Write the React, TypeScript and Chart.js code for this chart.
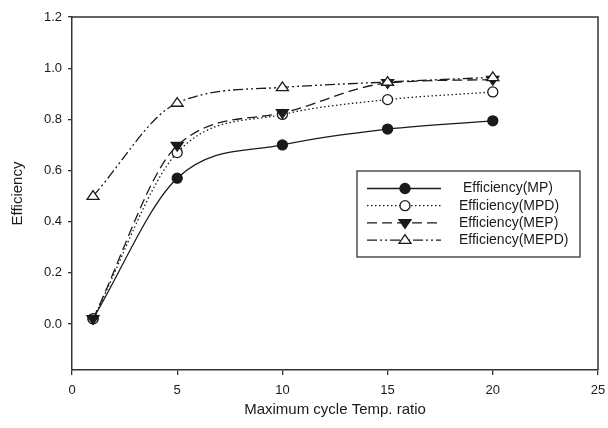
import React, { useEffect, useRef } from "react";
import { Chart, registerables } from "chart.js";

Chart.register(...registerables);

const xValues = [1, 5, 10, 15, 20];
const seriesLabels = ["Efficiency(MP)", "Efficiency(MPD)", "Efficiency(MEP)", "Efficiency(MEPD)"];
const effMP = [0.02, 0.57, 0.70, 0.762, 0.794];
const effMPD = [0.02, 0.67, 0.819, 0.877, 0.907];
const effMEP = [0.02, 0.697, 0.825, 0.942, 0.955];
const effMEPD = [0.50, 0.864, 0.925, 0.946, 0.964];
const yTickValues = [0, 0.2, 0.4, 0.6, 0.8, 1.0, 1.2];
const xTickValues = [0, 5, 10, 15, 20, 25];

const INK = "#1a1a1a";
const AXIS = "#333333";
const FONT = "'Liberation Sans', Arial, sans-serif";

type Style = { dash: number[]; marker: "circle" | "triangle"; filled: boolean; down: boolean };
const styles: Style[] = [
  { dash: [], marker: "circle", filled: true, down: false },
  { dash: [1.5, 2.5], marker: "circle", filled: false, down: false },
  { dash: [10, 5], marker: "triangle", filled: true, down: true },
  { dash: [10, 3, 2, 3, 2, 3], marker: "triangle", filled: false, down: false },
];
const seriesData = [effMP, effMPD, effMEP, effMEPD];

function drawMarker(ctx: CanvasRenderingContext2D, s: Style, x: number, y: number) {
  ctx.save();
  ctx.setLineDash([]);
  ctx.lineWidth = 1.3;
  ctx.strokeStyle = INK;
  ctx.fillStyle = s.filled ? INK : "#ffffff";
  ctx.beginPath();
  if (s.marker === "circle") {
    ctx.arc(x, y, 5, 0, Math.PI * 2);
  } else {
    const r = 6;
    if (s.down) {
      ctx.moveTo(x - r, y - r * 0.55);
      ctx.lineTo(x + r, y - r * 0.55);
      ctx.lineTo(x, y + r * 0.9);
    } else {
      ctx.moveTo(x - r, y + r * 0.55);
      ctx.lineTo(x + r, y + r * 0.55);
      ctx.lineTo(x, y - r * 0.9);
    }
    ctx.closePath();
  }
  ctx.fill();
  ctx.stroke();
  ctx.restore();
}

const markerPlugin = {
  id: "customMarkers",
  afterDatasetsDraw(chart: any) {
    const ctx = chart.ctx;
    chart.data.datasets.forEach((_: any, i: number) => {
      const meta = chart.getDatasetMeta(i);
      meta.data.forEach((pt: any) => drawMarker(ctx, styles[i], pt.x, pt.y));
    });
  },
};

const framePlugin = {
  id: "frame",
  afterDraw(chart: any) {
    const { ctx, chartArea } = chart;
    ctx.save();
    ctx.strokeStyle = AXIS;
    ctx.lineWidth = 1.5;
    ctx.beginPath();
    ctx.moveTo(chartArea.left, chartArea.top);
    ctx.lineTo(chartArea.right, chartArea.top);
    ctx.lineTo(chartArea.right, chartArea.bottom);
    ctx.stroke();
    ctx.restore();
  },
};

const legendPlugin = {
  id: "boxLegend",
  afterDraw(chart: any) {
    const ctx = chart.ctx;
    const x0 = 357, y0 = 171, w = 223, h = 86;
    ctx.save();
    ctx.fillStyle = "#ffffff";
    ctx.fillRect(x0, y0, w, h);
    ctx.strokeStyle = AXIS;
    ctx.lineWidth = 1.3;
    ctx.strokeRect(x0, y0, w, h);
    chart.data.datasets.forEach((ds: any, i: number) => {
      const y = y0 + 17.5 + i * 17.2;
      ctx.save();
      ctx.strokeStyle = INK;
      ctx.lineWidth = 1.3;
      ctx.setLineDash(styles[i].dash);
      ctx.beginPath();
      ctx.moveTo(367, y);
      ctx.lineTo(441, y);
      ctx.stroke();
      ctx.restore();
      drawMarker(ctx, styles[i], 405, y);
      ctx.fillStyle = INK;
      ctx.font = `14px ${FONT}`;
      ctx.textBaseline = "middle";
      ctx.textAlign = "left";
      ctx.fillText(ds.label, i === 0 ? 463 : 459, y);
    });
    ctx.restore();
  },
};

export default function App() {
  const ref = useRef<HTMLCanvasElement | null>(null);
  useEffect(() => {
    if (!ref.current) return;
    const chart = new Chart(ref.current, {
      type: "line",
      data: {
        datasets: seriesLabels.map((label, i) => ({
          label,
          data: xValues.map((x, j) => ({ x, y: seriesData[i][j] })),
          borderColor: INK,
          borderWidth: 1.3,
          borderDash: styles[i].dash,
          pointRadius: 0,
          cubicInterpolationMode: "monotone" as const,
          fill: false,
        })),
      },
      options: {
        animation: false,
        responsive: false,
        layout: { padding: { top: 17, right: 10, left: 0, bottom: 0 } },
        plugins: { legend: { display: false }, tooltip: { enabled: false } },
        scales: {
          x: {
            type: "linear",
            min: 0,
            max: 25,
            afterBuildTicks: (scale: any) => {
              scale.ticks = xTickValues.map((v) => ({ value: v }));
            },
            afterFit: (scale: any) => {
              scale.height = 58;
              scale.paddingLeft = 0;
              scale.paddingRight = 0;
            },
            ticks: { color: INK, font: { size: 13, family: FONT }, padding: 8, maxRotation: 0 },
            grid: { display: true, drawOnChartArea: false, drawTicks: true, tickLength: 5, color: AXIS, lineWidth: 1.3 },
            border: { color: AXIS, width: 1.5 },
            title: {
              display: true,
              text: "Maximum cycle Temp. ratio",
              color: INK,
              font: { size: 15, family: FONT },
              padding: { top: 0, bottom: 9 },
            },
          },
          y: {
            type: "linear",
            min: -0.18,
            max: 1.2,
            afterBuildTicks: (scale: any) => {
              scale.ticks = yTickValues.map((v) => ({ value: v }));
            },
            afterFit: (scale: any) => {
              scale.width = 72;
              scale.paddingTop = 0;
              scale.paddingBottom = 0;
            },
            ticks: {
              color: INK,
              font: { size: 13, family: FONT },
              padding: 6,
              callback: (v: any) => Number(v).toFixed(1),
            },
            grid: { display: true, drawOnChartArea: false, drawTicks: true, tickLength: 4, color: AXIS, lineWidth: 1.3 },
            border: { color: AXIS, width: 1.5 },
            title: {
              display: true,
              text: "Efficiency",
              color: INK,
              font: { size: 15, family: FONT },
              padding: { top: 9, bottom: 9 },
            },
          },
        },
      },
      plugins: [markerPlugin, framePlugin, legendPlugin],
    });
    return () => chart.destroy();
  }, []);
  return (
    <div style={{ position: "fixed", left: 0, top: 0, width: 608, height: 428, background: "#fff" }}>
      <canvas ref={ref} width={608} height={428} />
    </div>
  );
}
